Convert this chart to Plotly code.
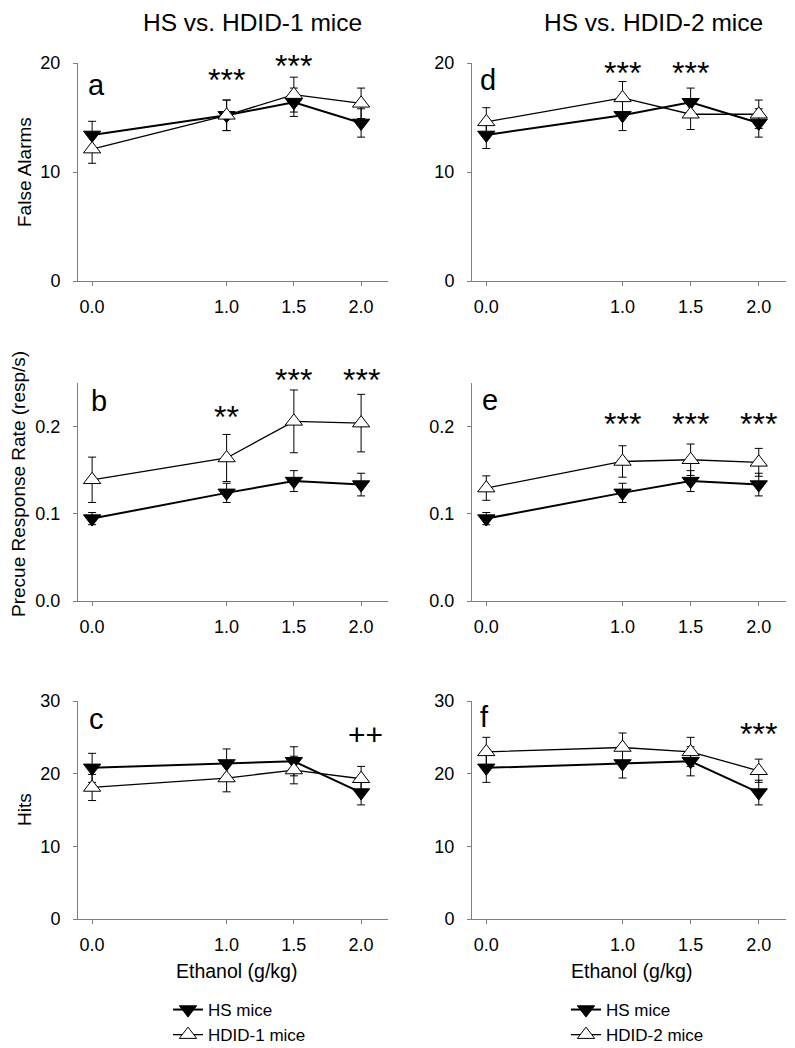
import plotly.graph_objects as go

# ---------------- data ----------------
dose = [0.0, 1.0, 1.5, 2.0]
dose_labels = ["0.0", "1.0", "1.5", "2.0"]

hs_fa = [13.4, 15.2, 16.4, 14.5]
hs_fa_se = [1.25, 1.4, 1.3, 1.3]
hdid1_fa = [12.1, 15.2, 17.1, 16.3]
hdid1_fa_se = [1.3, 1.4, 1.6, 1.4]
hdid2_fa = [14.6, 16.8, 15.3, 15.3]
hdid2_fa_se = [1.3, 1.5, 1.4, 1.3]

hs_prr = [0.0945, 0.124, 0.1375, 0.1335]
hs_prr_se = [0.007, 0.011, 0.012, 0.013]
hdid1_prr = [0.139, 0.164, 0.206, 0.204]
hdid1_prr_se = [0.026, 0.027, 0.036, 0.033]
hdid2_prr = [0.1295, 0.160, 0.162, 0.159]
hdid2_prr_se = [0.014, 0.018, 0.018, 0.016]

hs_hits = [20.8, 21.4, 21.7, 17.4]
hs_hits_se = [2.0, 2.0, 2.0, 1.7]
hdid1_hits = [18.1, 19.4, 20.5, 19.3]
hdid1_hits_se = [1.8, 1.9, 1.9, 1.7]
hdid2_hits = [23.0, 23.6, 23.0, 20.4]
hdid2_hits_se = [2.0, 2.0, 2.0, 1.6]

# significance marks (x dose, text, y position in data units)
sig_a_x = [1.0, 1.5]; sig_a_t = ["***", "***"]; sig_a_y = [18.8, 20.1]
sig_b_x = [1.0, 1.5, 2.0]; sig_b_t = ["**", "***", "***"]; sig_b_y = [0.216, 0.258, 0.258]
sig_c_x = [2.03]; sig_c_t = ["++"]; sig_c_y = [25.3]
sig_d_x = [1.0, 1.5]; sig_d_t = ["***", "***"]; sig_d_y = [19.45, 19.45]
sig_e_x = [1.0, 1.5, 2.0]; sig_e_t = ["***", "***", "***"]; sig_e_y = [0.207, 0.207, 0.207]
sig_f_x = [2.0]; sig_f_t = ["***"]; sig_f_y = [26.0]

panel_letters = ["a", "b", "c", "d", "e", "f"]
col_titles = ["HS vs. HDID-1 mice", "HS vs. HDID-2 mice"]
y_titles = ["False Alarms", "Precue Response Rate (resp/s)", "Hits"]
x_title = "Ethanol (g/kg)"
hs_name = "HS mice"
hdid_names = ["HDID-1 mice", "HDID-2 mice"]

# ---------------- layout geometry ----------------
OFF = 8                       # page body margin of the html page
W, H = 795 - OFF, 1048 - OFF
FONT = "Liberation Sans, Arial, sans-serif"


def px_x(sx):
    return (sx - OFF) / W


def px_y(sy):
    return 1 - (sy - OFF) / H


xdom = [[px_x(78), px_x(388)], [px_x(472), px_x(786)]]
ypix = [(63, 281), (383, 601), (701, 919)]
ydom = [[px_y(b), px_y(t)] for (t, b) in ypix]
yranges = [[0, 20], [0, 0.25], [0, 30]]
ytickvals = [[0, 10, 20], [0, 0.1, 0.2], [0, 10, 20, 30]]
ytickfmt = ["d", ".1f", "d"]
xrange_ = [-0.105, 2.2]

fig = go.Figure()

panels = [
    (0, 0, hs_fa, hs_fa_se, hdid1_fa, hdid1_fa_se, sig_a_x, sig_a_t, sig_a_y),
    (0, 1, hs_prr, hs_prr_se, hdid1_prr, hdid1_prr_se, sig_b_x, sig_b_t, sig_b_y),
    (0, 2, hs_hits, hs_hits_se, hdid1_hits, hdid1_hits_se, sig_c_x, sig_c_t, sig_c_y),
    (1, 0, hs_fa, hs_fa_se, hdid2_fa, hdid2_fa_se, sig_d_x, sig_d_t, sig_d_y),
    (1, 1, hs_prr, hs_prr_se, hdid2_prr, hdid2_prr_se, sig_e_x, sig_e_t, sig_e_y),
    (1, 2, hs_hits, hs_hits_se, hdid2_hits, hdid2_hits_se, sig_f_x, sig_f_t, sig_f_y),
]

axis_common = dict(
    showline=True, linecolor="#7f7f7f", linewidth=1,
    ticks="outside", ticklen=4, tickcolor="#7f7f7f", tickwidth=1,
    showgrid=False, zeroline=False, automargin=False,
    tickfont=dict(family=FONT, size=18, color="black"),
)

annotations = []
letter_pos = [(0.03, 0.90), (0.05, 0.919), (0.03, 0.918),
              (0.01, 0.92), (0.03, 0.924), (-0.01, 0.927)]

for i, (col, row, hs, hs_se, hd, hd_se, sx, st, sy) in enumerate(panels):
    n = i + 1
    xa = "x" if n == 1 else f"x{n}"
    ya = "y" if n == 1 else f"y{n}"
    leg = "legend" if col == 0 else "legend2"
    show = row == 0
    fig.add_trace(go.Scatter(
        x=dose, y=hs, xaxis=xa, yaxis=ya, name=hs_name,
        mode="lines+markers", cliponaxis=False,
        line=dict(color="black", width=2),
        marker=dict(symbol="triangle-down", size=15, color="black",
                    line=dict(color="black", width=1)),
        error_y=dict(type="data", array=hs_se, color="black", thickness=1, width=4),
        showlegend=show, legend=leg,
    ))
    fig.add_trace(go.Scatter(
        x=dose, y=hd, xaxis=xa, yaxis=ya, name=hdid_names[col],
        mode="lines+markers", cliponaxis=False,
        line=dict(color="black", width=1.3),
        marker=dict(symbol="triangle-up", size=15, color="white",
                    line=dict(color="black", width=1)),
        error_y=dict(type="data", array=hd_se, color="black", thickness=1, width=4),
        showlegend=show, legend=leg,
    ))
    xkey = "xaxis" if n == 1 else f"xaxis{n}"
    ykey = "yaxis" if n == 1 else f"yaxis{n}"
    fig.update_layout(**{
        xkey: dict(axis_common, domain=xdom[col], anchor=ya, range=xrange_,
                   tickvals=dose, ticktext=dose_labels, ticklabelstandoff=5),
        ykey: dict(axis_common, domain=ydom[row], anchor=xa, range=yranges[row],
                   tickvals=ytickvals[row], tickformat=ytickfmt[row],
                   ticklabelstandoff=9),
    })
    r0, r1 = yranges[row]
    for xx, tt, yy in zip(sx, st, sy):
        is_star = "*" in tt
        annotations.append(dict(
            x=xx, y=(yy - r0) / (r1 - r0), xref=xa, yref=f"{ya} domain",
            text=tt, showarrow=False, xanchor="center", yanchor="middle",
            yshift=-4 if is_star else 1,
            font=dict(family=FONT, size=32 if is_star else 30, color="black"),
        ))
    lx, ly = letter_pos[i]
    annotations.append(dict(
        x=lx, y=ly, xref=xa, yref=f"{ya} domain", text=panel_letters[i],
        showarrow=False, xanchor="center", yanchor="middle",
        font=dict(family=FONT, size=29, color="black"),
    ))

# column titles
for cx, t in zip([252, 653], col_titles):
    annotations.append(dict(x=px_x(cx), y=px_y(23), xref="paper", yref="paper",
                            text=t, showarrow=False, xanchor="center", yanchor="middle",
                            font=dict(family=FONT, size=24.5, color="black")))
# x titles
for cx in [236, 631]:
    annotations.append(dict(x=px_x(cx), y=px_y(971), xref="paper", yref="paper",
                            text=x_title, showarrow=False, xanchor="center", yanchor="middle",
                            font=dict(family=FONT, size=19.5, color="black")))
# y titles
for (cx, cy), t in zip([(24, 172), (19, 484), (24, 810)], y_titles):
    annotations.append(dict(x=px_x(cx), y=px_y(cy), xref="paper", yref="paper",
                            text=t, showarrow=False, textangle=-90,
                            xanchor="center", yanchor="middle",
                            font=dict(family=FONT, size=19, color="black")))

legend_common = dict(
    orientation="v", xanchor="left", yanchor="top",
    font=dict(family=FONT, size=17, color="black"),
    bgcolor="rgba(0,0,0,0)", borderwidth=0, tracegroupgap=0,
    itemsizing="trace",
)
fig.update_layout(
    width=W, height=H,
    margin=dict(l=0, r=0, t=0, b=0, pad=0, autoexpand=False),
    paper_bgcolor="white", plot_bgcolor="white",
    font=dict(family=FONT, color="black"),
    annotations=annotations,
    legend=dict(legend_common, x=px_x(168), y=px_y(992)),
    legend2=dict(legend_common, x=px_x(566), y=px_y(992)),
)

fig.write_html("out.html")
